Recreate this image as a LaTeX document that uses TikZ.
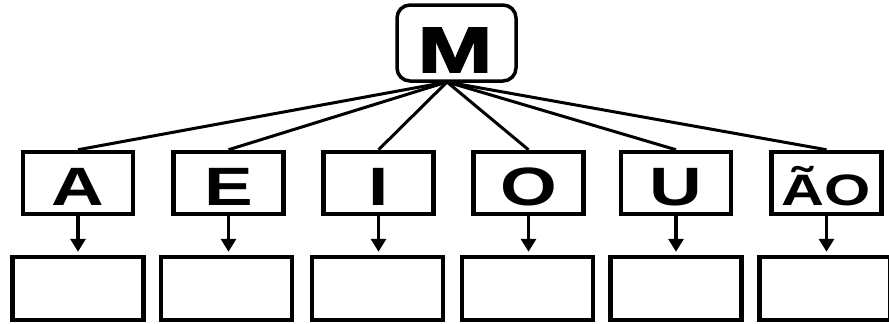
\documentclass[tikz,border=0pt]{standalone}
\usepackage{fontspec}
\newfontfamily\lettfont[FakeStretch=1.35]{Liberation Sans Bold}
\newfontfamily\mfont[FakeStretch=1.4,FakeBold=3]{Liberation Sans Bold}
\usetikzlibrary{arrows.meta}
\begin{document}
\begin{tikzpicture}[x=1pt,y=-1pt,
  topbox/.style={draw,line width=4.5pt,minimum width=110pt,minimum height=62pt,inner sep=0pt},
  lowbox/.style={draw,line width=4.5pt,minimum width=131pt,minimum height=63pt,inner sep=0pt},
  mbox/.style={draw,line width=3.5pt,rounded corners=13pt,minimum width=119pt,minimum height=76pt,inner sep=0pt},
  lett/.style={anchor=base,inner sep=0pt,font=\lettfont\fontsize{54pt}{54pt}\selectfont},
  conn/.style={line width=3pt},
  arr/.style={line width=3.5pt,-{Triangle[length=13pt,width=15pt]},shorten >=3pt}]
\useasboundingbox (0,0) rectangle (889,324);
\begin{scope}
\clip (0,0) rectangle (889,324);
\node[mbox] (M) at (456.5,43) {};
\node[anchor=base,inner sep=0pt,font=\mfont\fontsize{64pt}{64pt}\selectfont] (Mt) at (455,72) {M};
\coordinate (hub) at (447,82);
\foreach \n/\x/\bx/\t in {A/78/78/A, E/228.5/226.5/E, I/378.5/377.5/I, O/528.5/527.5/O, U/676/676/U}{
  \node[topbox] (t\n) at (\x,183) {};
  \node[lett] (l\n) at (\x,205) {\t};
  \node[lowbox] (b\n) at (\bx,288.5) {};
  \draw[conn] (hub) -- (t\n.north);
  \draw[arr] (t\n.south) -- (t\n.south |- b\n.north);
}
\node[topbox] (tAO) at (826.5,183) {};
\node[anchor=base,inner sep=0pt,font=\lettfont\fontsize{44pt}{44pt}\selectfont] (lAO) at (826.5,205) {ÃO};
\node[lowbox] (bAO) at (825,288.5) {};
\draw[conn] (hub) -- (tAO.north);
\draw[arr] (tAO.south) -- (tAO.south |- bAO.north);
\end{scope}
\end{tikzpicture}
\end{document}
